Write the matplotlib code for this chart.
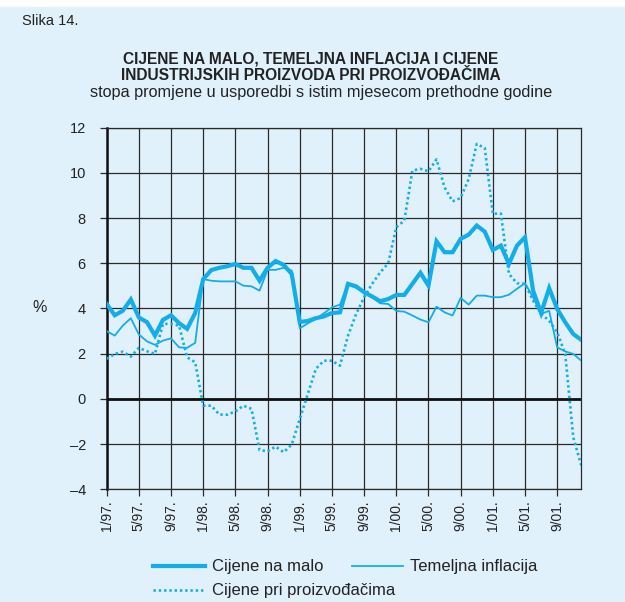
import matplotlib
matplotlib.use("Agg")
import matplotlib.pyplot as plt
from matplotlib.patches import Rectangle

# ---- data (monthly, 1/97 .. 12/01) ----
retail = [4.2, 3.7, 3.9, 4.4, 3.6, 3.4, 2.8, 3.5, 3.7, 3.35, 3.1, 3.8,
          5.3, 5.7, 5.8, 5.87, 5.97, 5.8, 5.8, 5.23, 5.8, 6.1, 5.93, 5.53,
          3.4, 3.45, 3.57, 3.65, 3.8, 3.83, 5.09, 4.98, 4.72, 4.53, 4.32, 4.42,
          4.6, 4.6, 5.09, 5.58, 5.01, 6.97, 6.49, 6.49, 7.08, 7.27, 7.67, 7.4,
          6.59, 6.78, 5.97, 6.78, 7.15, 4.8, 3.8, 4.9, 3.98, 3.39, 2.87, 2.61]
core = [3.0, 2.8, 3.24, 3.57, 2.85, 2.55, 2.39, 2.58, 2.68, 2.28, 2.26, 2.48,
        5.3, 5.23, 5.2, 5.2, 5.2, 5.01, 4.98, 4.79, 5.71, 5.71, 5.8, 5.68,
        3.12, 3.34, 3.54, 3.79, 4.05, 4.17, 5.09, 4.91, 4.72, 4.5, 4.23, 4.2,
        3.89, 3.86, 3.69, 3.51, 3.39, 4.08, 3.83, 3.69, 4.47, 4.17, 4.57, 4.57,
        4.5, 4.5, 4.61, 4.87, 5.12, 4.5, 3.76, 3.9, 2.28, 2.1, 1.99, 1.69]
ppi = [1.77, 1.99, 2.09, 1.87, 2.26, 2.11, 1.99, 3.32, 3.32, 3.24, 1.84, 1.62,
       -0.3, -0.3, -0.69, -0.7, -0.55, -0.3, -0.44, -2.26, -2.32, -2.11, -2.36, -2.02,
       -0.89, 0.22, 1.33, 1.69, 1.69, 1.47, 2.8, 3.75, 4.5, 5.09, 5.6, 6.0,
       7.6, 7.89, 10.1, 10.18, 10.07, 10.6, 9.36, 8.74, 8.89, 9.73, 11.28, 11.1,
       8.19, 8.2, 5.53, 5.12, 5.09, 4.35, 3.77, 3.46, 2.95, 1.99, -1.7, -2.95]
months = list(range(len(retail)))
tick_pos = list(range(0, 57, 4))
tick_labels = ["1/97.", "5/97.", "9/97.", "1/98.", "5/98.", "9/98.", "1/99.", "5/99.",
               "9/99.", "1/00.", "5/00.", "9/00.", "1/01.", "5/01.", "9/01."]
y_ticks = [-4, -2, 0, 2, 4, 6, 8, 10, 12]

series_names = ["Cijene na malo", "Temeljna inflacija", "Cijene pri proizvođačima"]

BG = "#e0f1fb"
BLUE = "#13aeea"
GRID = "#2a2a2a"

plt.rcParams['font.family'] = ['Liberation Sans', 'DejaVu Sans']

fig = plt.figure(figsize=(6.25, 6.02), dpi=100)
fig.patch.set_facecolor("white")
fig.patches.append(Rectangle((0, 0), 1, 1 - 7 / 602, transform=fig.transFigure,
                             facecolor=BG, edgecolor="none", zorder=-10))

ax = fig.add_axes([0.1707, 0.1872, 0.9301 - 0.1707, 0.7879 - 0.1872])
ax.set_facecolor(BG)

l1, = ax.plot(months, retail, color=BLUE, lw=3.0, solid_joinstyle="miter", zorder=4)
l2, = ax.plot(months, core, color=BLUE, lw=1.3, zorder=3)
l3, = ax.plot(months, ppi, color=BLUE, lw=1.9, linestyle=(0, (0.9, 1.1)), zorder=3)

ax.set_xlim(0, 59)
ax.set_ylim(-4, 12)
ax.set_yticks(y_ticks)
ax.set_xticks(tick_pos)
ax.set_xticklabels(tick_labels, rotation=90, fontsize=10)
ax.set_yticklabels([f"{v}".replace("-", "\u2013") for v in y_ticks], fontsize=10.5)

ax.grid(True, color=GRID, lw=0.9)
ax.set_axisbelow(True)
ax.axhline(0, color="#111111", lw=2.0, zorder=2)

ax.tick_params(axis="y", direction="out", length=5, width=0.9, color=GRID, pad=10,
               labelcolor="#222222")
ax.tick_params(axis="x", direction="out", length=5, width=0.9, color=GRID, pad=3,
               labelcolor="#222222")
for s in ["top", "right", "bottom"]:
    ax.spines[s].set_color(GRID)
    ax.spines[s].set_linewidth(0.9)
ax.spines["left"].set_color("#111111")
ax.spines["left"].set_linewidth(1.8)

fig.text(40 / 625, 1 - 308 / 602, "%", fontsize=11.5, ha="center", va="center", color="#222222")

fig.text(22 / 625, 1 - 21 / 602, "Slika 14.", fontsize=10.5, ha="left", va="center", color="#222222")
tfam = ['Liberation Sans Narrow', 'Liberation Sans', 'DejaVu Sans']
fig.text(0.4976, 1 - 59 / 602, "CIJENE NA MALO, TEMELJNA INFLACIJA I CIJENE", fontsize=11.2,
         fontweight="bold", ha="center", va="center", family=tfam, color="#222222",
         fontstretch="condensed")
fig.text(0.4976, 1 - 76 / 602, "INDUSTRIJSKIH PROIZVODA PRI PROIZVOĐAČIMA", fontsize=11.2,
         fontweight="bold", ha="center", va="center", family=tfam, color="#222222",
         fontstretch="condensed")
fig.text(0.5144, 1 - 93 / 602, "stopa promjene u usporedbi s istim mjesecom prethodne godine",
         fontsize=11.7, ha="center", va="center", color="#222222")

leg1 = fig.legend([l1, l2], series_names[:2], loc="center left",
                  bbox_to_anchor=(153 / 625, 1 - 567 / 602), ncol=2, frameon=False,
                  fontsize=12, handlelength=3.1, handletextpad=0.42, columnspacing=1.7,
                  borderpad=0, borderaxespad=0)
leg2 = fig.legend([l3], series_names[2:], loc="center left",
                  bbox_to_anchor=(153 / 625, 1 - 591 / 602), frameon=False,
                  fontsize=12, handlelength=3.1, handletextpad=0.42,
                  borderpad=0, borderaxespad=0)
for lg in (leg1, leg2):
    for t in lg.get_texts():
        t.set_color("#222222")

fig.savefig("out.png", dpi=100, facecolor=fig.get_facecolor())
